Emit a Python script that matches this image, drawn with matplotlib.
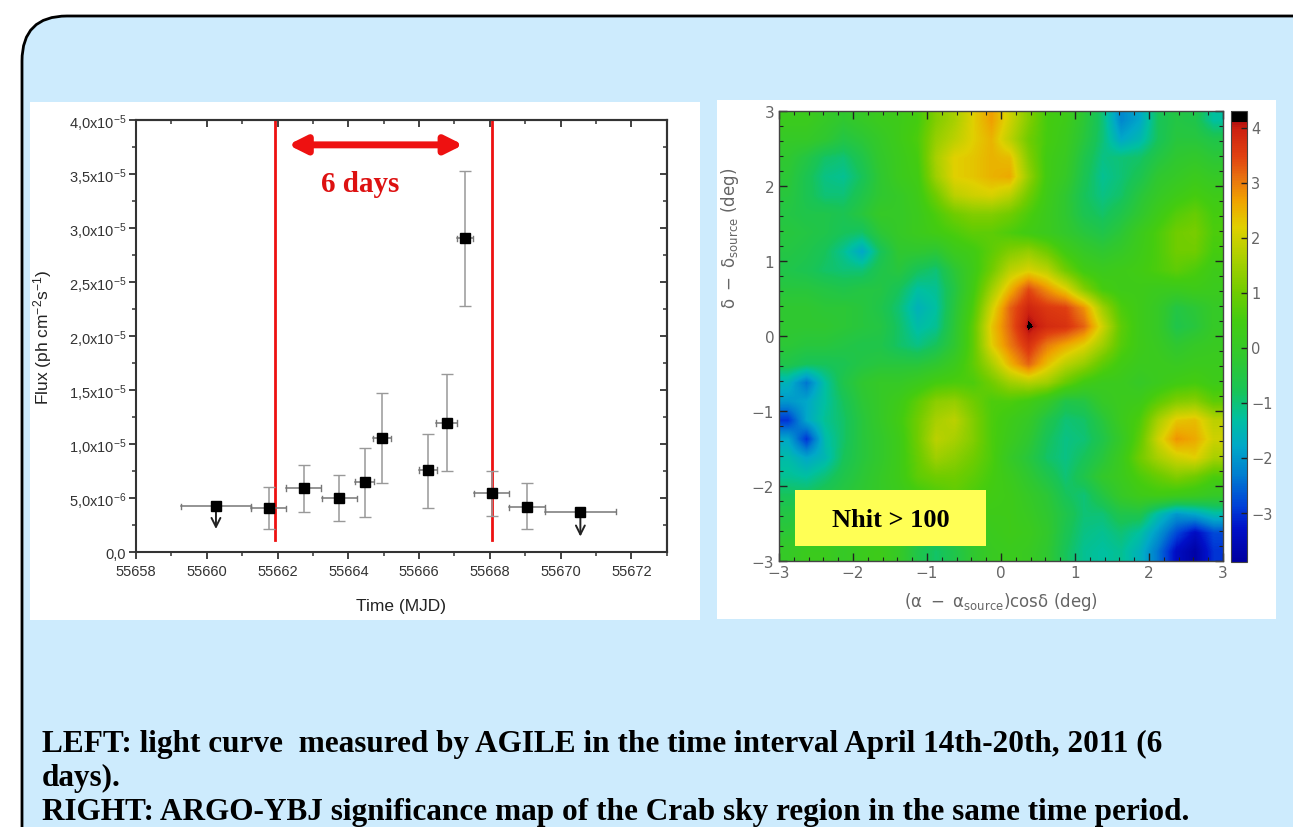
import numpy as np
import matplotlib
matplotlib.use('Agg')
import matplotlib.pyplot as plt
from matplotlib.patches import FancyBboxPatch, Rectangle
from matplotlib.colors import LinearSegmentedColormap, Normalize
from matplotlib.ticker import MultipleLocator, FuncFormatter

plt.rcParams['mathtext.default'] = 'regular'

# --- AGILE light curve (flux in ph cm^-2 s^-1) ---
mjd = [55660.26, 55661.75, 55662.74, 55663.75, 55664.47, 55664.96,
       55666.25, 55666.78, 55667.30, 55668.05, 55669.05, 55670.56]
mjd_half = [1.0, 0.5, 0.5, 0.5, 0.27, 0.25, 0.25, 0.3, 0.23, 0.5, 0.5, 1.0]
flux = [4.26e-6, 4.07e-6, 5.95e-6, 5.0e-6, 6.53e-6, 10.55e-6,
        7.6e-6, 11.96e-6, 29.05e-6, 5.46e-6, 4.16e-6, 3.76e-6]
flux_hi = [np.nan, 6.0e-6, 8.1e-6, 7.15e-6, 9.62e-6, 14.74e-6,
           10.94e-6, 16.5e-6, 35.3e-6, 7.5e-6, 6.38e-6, np.nan]
flux_lo = [np.nan, 2.2e-6, 3.76e-6, 2.92e-6, 3.24e-6, 6.38e-6,
           4.1e-6, 7.5e-6, 22.76e-6, 3.33e-6, 2.16e-6, np.nan]
upper_limit = [True, False, False, False, False, False,
               False, False, False, False, False, True]
ul_arrow_end = [1.9e-6, 0, 0, 0, 0, 0, 0, 0, 0, 0, 0, 1.2e-6]

window_lines = [55661.94, 55668.06]
window_arrow = [55662.3, 55667.25]

# --- ARGO-YBJ significance map, 0.25 deg cells, rows dec=+3 -> -3, cols ra=-3 -> +3 ---
sig_map = np.array([
    [0.2, 0.2, 0.0, -0.2, 0.0, 0.2, 0.3, 0.5, 1.2, 1.6, 2.2, 2.7, 2.0, 1.2, 0.5, 0.3, -0.3, -1.0, -2.2, -1.8, -0.8, -0.5, -0.6, -1.3],
    [0.0, 0.0, -0.2, -0.5, -0.3, 0.0, 0.3, 0.6, 1.4, 1.8, 2.2, 2.5, 1.8, 1.0, 0.5, 0.2, -0.4, -1.0, -1.8, -1.5, -0.8, -0.4, -0.4, -0.6],
    [-0.2, -0.5, -0.9, -1.0, -0.6, -0.1, 0.2, 0.5, 1.6, 2.2, 2.3, 2.5, 2.4, 1.2, 0.4, 0.1, -0.6, -1.1, -1.0, -0.9, -0.5, -0.2, -0.1, -0.3],
    [-0.3, -0.7, -1.1, -1.2, -0.8, -0.2, 0.2, 0.4, 1.5, 2.2, 2.3, 2.5, 2.6, 1.4, 0.4, 0.0, -0.7, -1.2, -1.0, -0.7, -0.2, 0.0, 0.2, 0.0],
    [-0.4, -0.7, -1.0, -1.0, -0.6, -0.2, 0.0, 0.3, 1.0, 1.8, 2.0, 2.1, 1.8, 1.0, 0.3, -0.2, -0.8, -1.1, -0.9, -0.4, 0.0, 0.3, 0.5, 0.3],
    [-0.5, -0.6, -0.6, -0.7, -0.4, 0.0, 0.0, 0.2, 0.6, 1.0, 1.2, 1.2, 1.0, 0.6, 0.2, -0.2, -0.7, -0.9, -0.6, -0.2, 0.3, 0.7, 0.9, 0.5],
    [-0.4, -0.5, -0.6, -0.8, -0.9, -0.3, 0.0, 0.2, 0.4, 0.6, 0.8, 0.8, 0.6, 0.4, 0.2, -0.1, -0.4, -0.6, -0.3, 0.2, 0.6, 1.0, 1.1, 0.6],
    [-0.5, -0.6, -0.8, -1.2, -1.8, -0.8, -0.2, -0.2, -0.3, 0.2, 0.4, 0.8, 1.2, 1.4, 1.0, 0.4, 0.0, -0.2, 0.0, 0.3, 0.6, 1.0, 1.0, 0.5],
    [-0.6, -0.7, -0.9, -1.0, -1.0, -0.6, -0.4, -0.8, -1.0, -0.3, 0.3, 1.0, 1.8, 2.1, 1.8, 1.0, 0.4, 0.2, 0.3, 0.4, 0.6, 0.8, 0.6, 0.3],
    [-0.4, -0.4, -0.5, -0.6, -0.5, -0.5, -0.8, -1.3, -1.2, -0.5, 0.4, 1.5, 2.5, 3.4, 2.8, 2.2, 1.2, 0.5, 0.3, 0.3, 0.2, 0.2, 0.3, 0.2],
    [-0.2, -0.2, -0.3, -0.3, -0.4, -0.6, -1.0, -1.6, -1.3, -0.4, 0.6, 2.0, 3.2, 3.9, 3.6, 3.5, 2.8, 1.5, 0.6, 0.3, 0.0, -0.5, -0.3, 0.0],
    [-0.2, -0.2, -0.2, -0.3, -0.4, -0.5, -0.9, -1.4, -1.2, -0.3, 0.8, 2.3, 3.2, 4.2, 3.8, 3.7, 3.2, 2.0, 0.8, 0.3, 0.0, -0.6, -0.4, 0.0],
    [-0.3, -0.4, -0.4, -0.5, -0.6, -0.6, -0.9, -1.1, -0.8, -0.2, 0.8, 2.2, 3.0, 3.7, 3.0, 2.6, 2.2, 1.5, 0.7, 0.3, 0.1, -0.2, 0.0, 0.1],
    [-0.6, -0.8, -0.8, -0.7, -0.5, -0.4, -0.4, -0.4, -0.2, 0.2, 0.8, 1.6, 2.5, 3.2, 2.4, 1.8, 1.4, 0.8, 0.4, 0.2, 0.2, 0.1, 0.2, 0.2],
    [-1.6, -2.4, -1.3, -0.6, -0.2, 0.0, 0.0, 0.2, 0.5, 0.6, 0.6, 1.0, 1.5, 1.7, 1.5, 0.9, 0.4, 0.2, 0.2, 0.0, 0.2, 0.4, 0.5, 0.3],
    [-2.0, -1.8, -1.3, -0.8, -0.3, 0.0, 0.3, 0.8, 1.3, 1.4, 1.0, 0.6, 0.6, 0.4, 0.0, -0.6, -0.5, 0.0, 0.2, 0.3, 0.8, 1.2, 1.3, 0.8],
    [-3.0, -1.8, -1.2, -0.9, -0.4, 0.0, 0.4, 1.0, 1.6, 1.8, 1.2, 0.6, 0.3, 0.0, -0.6, -1.0, -0.9, -0.4, 0.2, 0.6, 1.6, 2.3, 2.4, 1.8],
    [-1.8, -3.0, -1.4, -0.9, -0.4, -0.1, 0.3, 1.0, 1.8, 1.6, 1.2, 0.6, 0.2, -0.2, -0.8, -1.1, -1.0, -0.6, 0.0, 0.8, 2.0, 2.8, 2.6, 2.0],
    [-1.4, -1.8, -1.5, -0.8, -0.4, -0.1, 0.3, 0.9, 1.5, 1.3, 1.0, 0.6, 0.0, -0.4, -0.9, -1.1, -0.8, -0.4, 0.2, 1.0, 1.6, 2.0, 2.2, 1.6],
    [-1.2, -1.3, -1.0, -0.6, -0.3, 0.0, 0.3, 0.8, 1.0, 1.0, 0.8, 0.5, 0.2, -0.2, -0.6, -1.0, -0.6, -0.1, 0.2, 0.6, 0.9, 1.2, 1.0, 0.6],
    [-0.8, -0.8, -0.6, -0.4, -0.2, 0.0, 0.2, 0.4, 0.6, 0.8, 0.6, 0.4, 0.3, 0.0, -0.3, -0.8, -1.0, -0.5, 0.0, 0.3, 0.4, 0.3, 0.2, 0.0],
    [-0.5, -0.4, -0.3, -0.2, 0.0, 0.0, 0.2, 0.3, 0.4, 0.4, 0.3, 0.3, 0.3, 0.1, -0.2, -0.6, -1.0, -1.0, -0.6, -0.6, -1.4, -2.0, -1.8, -1.4],
    [-0.3, -0.2, -0.1, 0.0, 0.0, 0.0, 0.1, -0.3, -0.5, -0.3, 0.0, 0.2, 0.3, 0.2, -0.1, -0.7, -1.1, -1.2, -1.0, -1.3, -2.0, -2.8, -3.4, -2.8],
    [0.0, 0.2, 0.2, 0.0, 0.2, 0.3, 0.0, -0.6, -0.9, -0.6, -0.2, 0.1, 0.2, 0.1, -0.2, -0.8, -1.2, -1.3, -1.2, -1.6, -2.4, -3.4, -3.8, -3.0],
])
cbar_ticks = [-3, -2, -1, 0, 1, 2, 3, 4]

W, H = 1293, 828
fig = plt.figure(figsize=(W / 100, H / 100), dpi=100)

# slide background
bg = fig.add_axes([0, 0, 1, 1])
bg.set_xlim(0, W)
bg.set_ylim(H, 0)
bg.axis('off')
bg.add_patch(FancyBboxPatch((22, 17), 1400, 1000, boxstyle='round,pad=0,rounding_size=45',
                            fc='#cdebfd', ec='black', lw=2))
bg.add_patch(Rectangle((30, 103), 670, 518, fc='white', ec='none'))
bg.add_patch(Rectangle((717, 101), 559, 519, fc='white', ec='none'))

# ---------- left: light curve ----------
ax = fig.add_axes([136 / W, 1 - 553.3 / H, 530.7 / W, 432.3 / H])
red = '#ee1111'
for x in window_lines:
    ax.plot([x, x], [1.1e-6, 4.0e-5], color=red, lw=2, zorder=1)

for i in range(len(mjd)):
    ax.plot([mjd[i] - mjd_half[i], mjd[i] + mjd_half[i]], [flux[i], flux[i]],
            color='#777777', lw=1.1, zorder=2)
    for xe in (mjd[i] - mjd_half[i], mjd[i] + mjd_half[i]):
        ax.plot([xe, xe], [flux[i] - 0.25e-6, flux[i] + 0.25e-6], color='#777777', lw=1.0, zorder=2)
    if upper_limit[i]:
        ax.annotate('', xy=(mjd[i], ul_arrow_end[i]), xytext=(mjd[i], flux[i]),
                    arrowprops=dict(arrowstyle='->', color='#222222', lw=1.4, mutation_scale=16))
    else:
        ax.errorbar(mjd[i], flux[i], yerr=[[flux[i] - flux_lo[i]], [flux_hi[i] - flux[i]]],
                    fmt='none', ecolor='#999999', elinewidth=1.1, capsize=4, capthick=1.0, zorder=2)
ax.plot(mjd, flux, 's', color='black', ms=7, zorder=3)

ax.annotate('', xy=(window_arrow[0], 3.77e-5), xytext=(window_arrow[1], 3.77e-5),
            arrowprops=dict(arrowstyle='<|-|>', color=red, lw=5, mutation_scale=26, shrinkA=0, shrinkB=0))
ax.text(sum(window_arrow) / 2 - 0.45, 3.41e-5, '6 days', color='#dd1111', fontsize=21,
        fontweight='bold', family='Liberation Serif', ha='center', va='center')

ax.set_xlim(55658, 55673)
ax.set_ylim(0, 4.0e-5)
ax.xaxis.set_major_locator(MultipleLocator(2))
ax.xaxis.set_minor_locator(MultipleLocator(1))
ax.yaxis.set_major_locator(MultipleLocator(0.5e-5))
ax.yaxis.set_minor_locator(MultipleLocator(0.25e-5))


def flux_fmt(v, pos):
    if v < 1e-12:
        return '0,0' if abs(v) < 1e-12 else ''
    e = int(np.floor(np.log10(v) + 1e-9))
    m = v / 10 ** e
    return ('%.1f' % m).replace('.', ',') + 'x10$^{%d}$' % e


ax.yaxis.set_major_formatter(FuncFormatter(flux_fmt))
for sp in ax.spines.values():
    sp.set_color('#333333')
    sp.set_linewidth(1.5)
ax.tick_params(which='both', direction='out', color='#333333', labelcolor='#333333',
               labelsize=10.5, labelfontfamily='Liberation Sans')
ax.tick_params(which='major', length=5, width=1.3)
ax.tick_params(which='minor', length=3, width=1.1)
ax.tick_params(axis='y', pad=2)
top = ax.secondary_xaxis('top')
top.set_xticks(np.arange(55658, 55674, 2))
top.xaxis.set_minor_locator(MultipleLocator(1))
top.tick_params(which='both', direction='in', labeltop=False, color='#333333')
top.tick_params(which='major', length=5, width=1.3)
top.tick_params(which='minor', length=3, width=1.1)
right = ax.secondary_yaxis('right')
right.set_yticks(np.arange(0, 4.01e-5, 0.5e-5))
right.yaxis.set_minor_locator(MultipleLocator(0.25e-5))
right.tick_params(which='both', direction='in', labelright=False, color='#333333')
right.tick_params(which='major', length=5, width=1.3)
right.tick_params(which='minor', length=3, width=1.1)
for s in (top, right):
    for sp in s.spines.values():
        sp.set_color('#333333')
        sp.set_linewidth(1.5)

ax.set_ylabel('Flux (ph cm$^{-2}$s$^{-1}$)', fontsize=12.5, color='#222222', family='Liberation Sans')
ax.set_xlabel('Time (MJD)', fontsize=12.5, color='#222222', family='Liberation Sans')
ax.yaxis.set_label_coords(-0.155, 0.5)
ax.xaxis.set_label_coords(0.5, -0.105)

# ---------- right: significance map ----------
cmap = LinearSegmentedColormap.from_list('argo', [
    (0.000, '#0000a0'), (0.073, '#0010c8'), (0.122, '#0040d8'), (0.195, '#0080d0'),
    (0.256, '#00a8c8'), (0.317, '#00c0a0'), (0.378, '#18c458'), (0.451, '#30c830'),
    (0.537, '#44cc10'), (0.598, '#70cc00'), (0.671, '#a8d000'), (0.744, '#e0d000'),
    (0.805, '#f0a000'), (0.854, '#e87010'), (0.902, '#e04010'), (0.963, '#cc2010'),
    (0.977, '#b01010'), (0.980, '#000000'), (1.0, '#000000')])
norm = Normalize(vmin=-3.9, vmax=4.3)

mx = fig.add_axes([779 / W, 1 - 562 / H, 444 / W, 450 / H])
im = mx.imshow(sig_map, extent=[-3, 3, -3, 3], origin='upper', cmap=cmap,
               norm=norm, interpolation='bilinear', aspect='auto')
mx.set_xlim(-3, 3)
mx.set_ylim(-3, 3)
mx.xaxis.set_major_locator(MultipleLocator(1))
mx.yaxis.set_major_locator(MultipleLocator(1))
mx.xaxis.set_minor_locator(MultipleLocator(0.2))
mx.yaxis.set_minor_locator(MultipleLocator(0.2))
mx.tick_params(which='both', direction='in', top=True, right=True, color='#222222',
               labelcolor='#666666', labelsize=11)
mx.tick_params(which='major', length=6, width=1)
mx.tick_params(which='minor', length=3, width=0.8)
mx.tick_params(axis='x', pad=3)
for sp in mx.spines.values():
    sp.set_color('#444444')
    sp.set_linewidth(1)
mx.set_xlabel(r'$(\alpha\ -\ \alpha_{source})$cos$\delta$ (deg)', fontsize=12, color='#666666')
mx.set_ylabel(r'$\delta\ -\ \delta_{source}$ (deg)', fontsize=12, color='#666666')
mx.xaxis.set_label_coords(0.5, -0.065)
mx.yaxis.set_label_coords(-0.085, 0.72)

mx.add_patch(Rectangle((0.037, 0.033), 0.43, 0.125, transform=mx.transAxes,
                       fc='#ffff55', ec='none', zorder=5))
mx.text(0.252, 0.093, 'Nhit > 100', transform=mx.transAxes, fontsize=19, fontweight='bold',
        family='Liberation Serif', ha='center', va='center', zorder=6)

cax = fig.add_axes([1231 / W, 1 - 563 / H, 16 / W, 451 / H])
cb = fig.colorbar(im, cax=cax, ticks=cbar_ticks)
cb.outline.set_edgecolor('#444444')
cb.outline.set_linewidth(0.8)
cax.tick_params(direction='in', length=4, width=1, color='#222222', labelcolor='#666666',
                labelsize=10.5, pad=3)

# ---------- caption ----------
cap = dict(fontsize=22.5, fontweight='bold', family='Liberation Serif', color='black', va='baseline')
fig.text(42 / W, 1 - 752 / H, 'LEFT: light curve  measured by AGILE in the time interval April 14th-20th, 2011 (6', **cap)
fig.text(42 / W, 1 - 786 / H, 'days).', **cap)
fig.text(42 / W, 1 - 820 / H, 'RIGHT: ARGO-YBJ significance map of the Crab sky region in the same time period.', **cap)

fig.savefig('out.png', dpi=100)
